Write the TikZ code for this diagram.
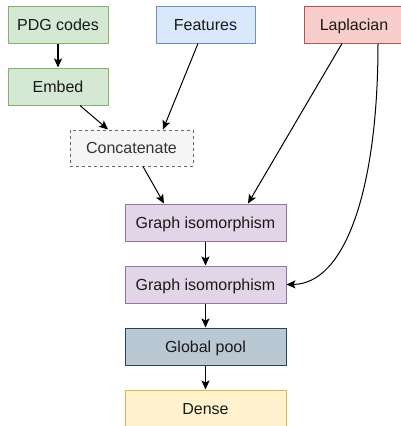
\documentclass[tikz,border=0pt]{standalone}
\usepackage{fontspec}
\setmainfont{Liberation Sans}
\usetikzlibrary{arrows.meta,calc}
\definecolor{gfill}{HTML}{D5E8D4}\definecolor{gdraw}{HTML}{82B366}
\definecolor{bfill}{HTML}{DAE8FC}\definecolor{bdraw}{HTML}{6C8EBF}
\definecolor{rfill}{HTML}{F8CECC}\definecolor{rdraw}{HTML}{B85450}
\definecolor{cfill}{HTML}{F5F5F5}\definecolor{cdraw}{HTML}{666666}\definecolor{ctext}{HTML}{333333}
\definecolor{pfill}{HTML}{E1D5E7}\definecolor{pdraw}{HTML}{9673A6}
\definecolor{sfill}{HTML}{BAC8D3}\definecolor{sdraw}{HTML}{23445D}
\definecolor{yfill}{HTML}{FFF2CC}\definecolor{ydraw}{HTML}{D6B656}
\begin{document}
\begin{tikzpicture}[x=1pt,y=-1pt,
  box/.style={draw,line width=1pt,minimum height=37pt,inner sep=0pt,text height=14pt,text depth=2.5pt,font=\fontsize{16}{19}\selectfont,text=black!90},
  smallbox/.style={box,minimum width=100pt},
  widebox/.style={box,minimum width=161pt},
  arr/.style={-{Stealth[length=9pt,width=8pt,inset=2pt]},line width=1pt},
  tarr/.style={arr,line width=1.6pt}]
\useasboundingbox (0,0) rectangle (401,426);
\node[smallbox,fill=gfill,draw=gdraw] (pdg) at (58,24.5) {PDG codes};
\node[smallbox,fill=bfill,draw=bdraw,minimum width=99pt] (feat) at (205.5,24.5) {Features};
\node[smallbox,fill=rfill,draw=rdraw] (lap) at (354,24.5) {Laplacian};
\node[smallbox,fill=gfill,draw=gdraw] (emb) at (58,86.5) {Embed};
\node[box,fill=cfill,draw=cdraw,dashed,dash pattern=on 3pt off 3pt,minimum width=123pt,minimum height=36pt,text=ctext] (cat) at (131.5,148) {Concatenate};
\node[widebox,fill=pfill,draw=pdraw] (gi1) at (205.5,222.5) {Graph isomorphism};
\node[widebox,fill=pfill,draw=pdraw] (gi2) at (205.5,284.5) {Graph isomorphism};
\node[widebox,fill=sfill,draw=sdraw] (pool) at (205.5,346.5) {Global pool};
\node[widebox,fill=yfill,draw=ydraw] (dense) at (205.5,408.5) {Dense};
\draw[tarr] (pdg) -- (emb);
\draw[arr] ($(emb.south)+(22,0)$) -- ($(cat.north)+(-23.5,0)$);
\draw[arr] ($(feat.south)+(-7.5,0)$) -- ($(cat.north)+(31.5,0)$);
\draw[arr] ($(cat.south)+(11.5,0)$) -- ($(gi1.north)+(-41.5,0)$);
\draw[arr] ($(lap.south)+(-12,0)$) -- ($(gi1.north)+(42.5,0)$);
\draw[arr] ($(lap.south)+(24,0)$) .. controls (378,190) and (345,284) .. (gi2.east);
\draw[arr] (gi1) -- (gi2);
\draw[tarr] (gi2) -- (pool);
\draw[tarr] (pool) -- (dense);
\end{tikzpicture}
\end{document}
